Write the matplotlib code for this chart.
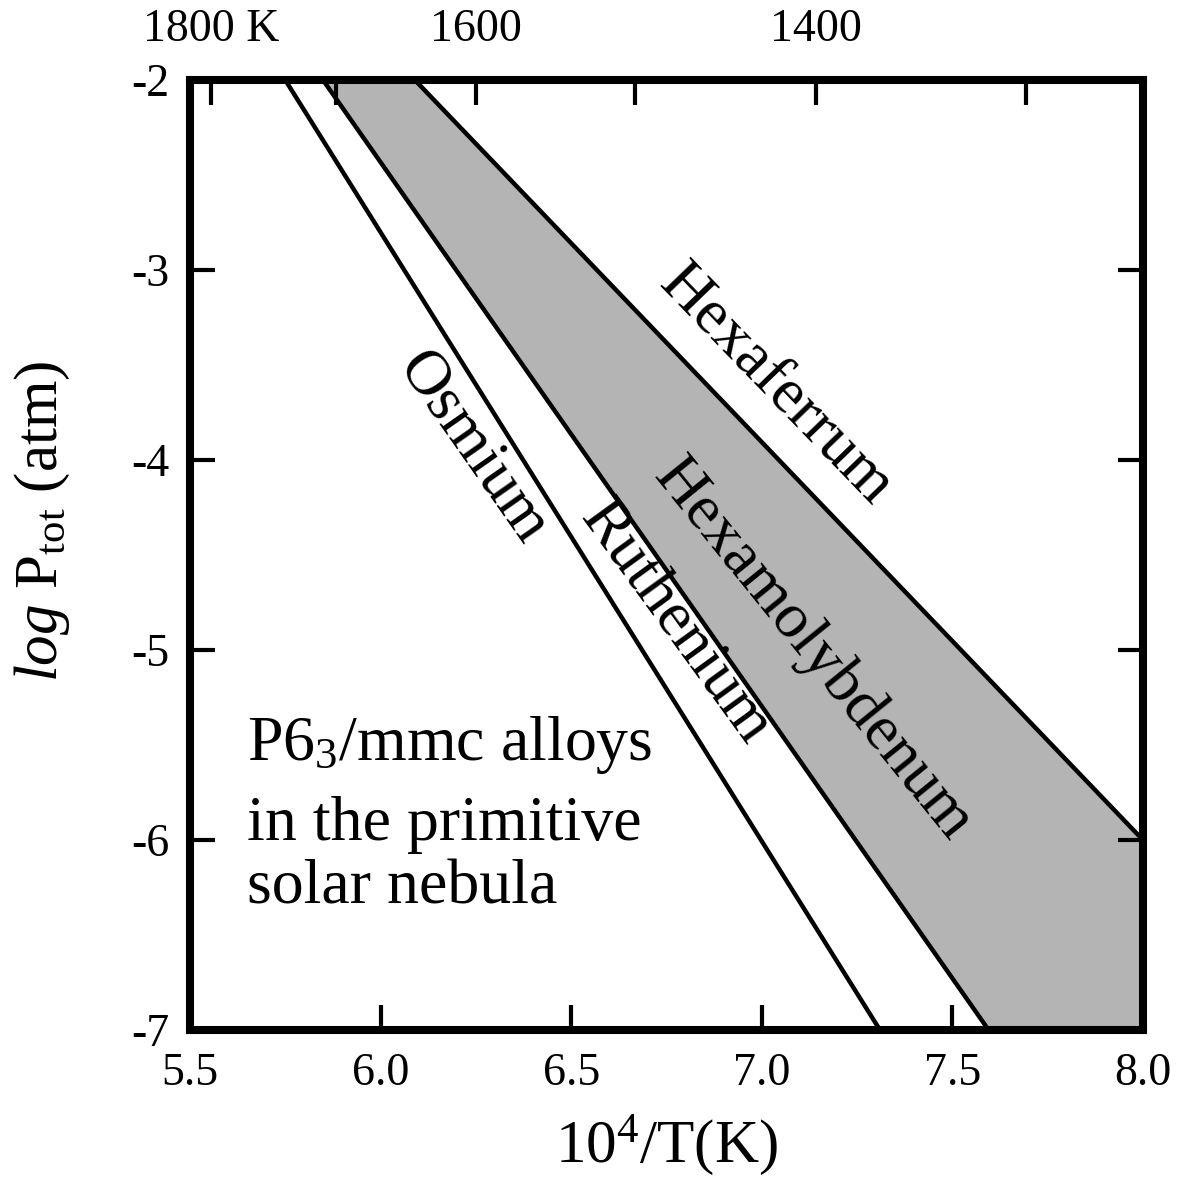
import matplotlib
matplotlib.use("Agg")
import matplotlib.pyplot as plt
import numpy as np

# axis ranges and ticks
x_lim = (5.5, 8.0)
y_lim = (-7.0, -2.0)
x_ticks = [5.5, 6.0, 6.5, 7.0, 7.5, 8.0]
x_tick_labels = ["5.5", "6.0", "6.5", "7.0", "7.5", "8.0"]
y_ticks = [-2, -3, -4, -5, -6, -7]
y_tick_labels = ["-2", "-3", "-4", "-5", "-6", "-7"]

# temperature scale on top (K)
temps_K = [1800, 1700, 1600, 1500, 1400, 1300]
temp_labels = ["1800 K", "", "1600", "", "1400", ""]

# stability boundaries, 10^4/T vs log P
osmium_x = [5.75, 7.31]
osmium_y = [-2.0, -7.0]
ruthenium_x = [5.849, 7.595]
ruthenium_y = [-2.0, -7.0]
hexaferrum_x = [6.09, 8.0]
hexaferrum_y = [-2.0, -6.0]

plt.rcParams["font.family"] = "Liberation Serif"
plt.rcParams["mathtext.fontset"] = "custom"
plt.rcParams["mathtext.rm"] = "Liberation Serif"
plt.rcParams["mathtext.it"] = "Liberation Serif:italic"
plt.rcParams["axes.unicode_minus"] = False

fig = plt.figure(figsize=(11.77, 11.77), dpi=100)
ax = fig.add_axes([0.1614, 0.1249, 0.8097, 0.8071])

# shaded hexamolybdenum field between ruthenium and hexaferrum
poly_x = [ruthenium_x[0], hexaferrum_x[0], hexaferrum_x[1], x_lim[1], ruthenium_x[1]]
poly_y = [ruthenium_y[0], hexaferrum_y[0], hexaferrum_y[1], y_lim[0], ruthenium_y[1]]
ax.fill(poly_x, poly_y, color="#b4b4b4", lw=0, zorder=1)

for xs, ys in [(osmium_x, osmium_y), (ruthenium_x, ruthenium_y), (hexaferrum_x, hexaferrum_y)]:
    ax.plot(xs, ys, color="black", lw=3.2, solid_capstyle="butt", zorder=2)

ax.set_xlim(*x_lim)
ax.set_ylim(*y_lim)
ax.set_xticks(x_ticks)
ax.set_xticklabels(x_tick_labels)
ax.set_yticks(y_ticks)
ax.set_yticklabels(y_tick_labels)
ax.tick_params(axis="both", direction="in", length=18, width=3, labelsize=33,
               top=False, right=True, pad=15)
ax.tick_params(axis="x", pad=16)
for sp in ax.spines.values():
    sp.set_linewidth(5.8)

# top axis in kelvin
ax_top = ax.twiny()
ax_top.set_xlim(*x_lim)
ax_top.set_xticks(1e4 / np.array(temps_K))
ax_top.set_xticklabels(temp_labels)
ax_top.tick_params(axis="x", direction="in", length=18, width=3, labelsize=33, pad=21)
for sp in ax_top.spines.values():
    sp.set_visible(False)

ax.set_xlabel(r"10$^4$/T(K)", fontsize=44)
ax.xaxis.set_label_coords(0.5, -0.088)
ax.set_ylabel(r"$\mathit{log}$ P$_{\mathrm{tot}}$ (atm)", fontsize=44, va="center")
ax.yaxis.set_label_coords(-0.155, 0.535)

# field labels
ax.text(7.035, -3.605, "Hexaferrum", fontsize=46, rotation=-46, ha="center", va="center",
        rotation_mode="anchor")
ax.text(7.132, -5.0, "Hexamolybdenum", fontsize=46, rotation=-51, ha="center", va="center",
        rotation_mode="anchor")
ax.text(6.772, -4.858, "Ruthenium", fontsize=46, rotation=-54, ha="center", va="center",
        rotation_mode="anchor")
ax.text(6.24, -3.937, "Osmium", fontsize=46, rotation=-55, ha="center", va="center",
        rotation_mode="anchor")

ax.text(5.65, -5.579, r"P6$_3$/mmc alloys", fontsize=46, ha="left", va="baseline")
ax.text(5.65, -6.0, "in the primitive", fontsize=46, ha="left", va="baseline")
ax.text(5.65, -6.332, "solar nebula", fontsize=46, ha="left", va="baseline")

fig.savefig("out.png", dpi=100)
